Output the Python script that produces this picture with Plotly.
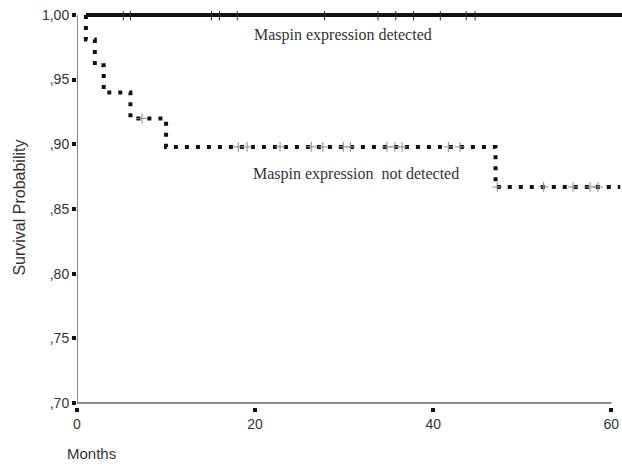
import plotly.graph_objects as go

# Kaplan-Meier step data
det_t = [1.0, 61.2]
det_s = [1.0, 1.0]
det_cens_t = [5.2, 6.0, 15.1, 16.0, 18.0, 27.8, 33.8, 35.8, 37.8, 40.8, 43.7, 44.7]

nd_t = [1.0, 1.0, 2.0, 3.0, 6.0, 10.0, 47.0, 61.0]
nd_s = [1.0, 0.981, 0.961, 0.94, 0.92, 0.898, 0.867, 0.867]
nd_cens_t = [7.3, 18.1, 19.1, 22.8, 26.3, 27.6, 29.9, 30.7, 34.8, 35.7, 36.5,
             41.7, 43.0, 47.2, 52.4, 55.7, 57.6, 58.5]
nd_cens_s = [0.92] + [0.898] * 12 + [0.867] * 5

x_ticks = [0, 20, 40, 60]
y_ticks = [0.70, 0.75, 0.80, 0.85, 0.90, 0.95, 1.00]
y_labels = [",70", ",75", ",80", ",85", ",90", ",95", "1,00"]

fig = go.Figure()
fig.add_trace(go.Scatter(x=nd_t, y=nd_s, mode="lines", line_shape="hv",
                         line=dict(color="#111", width=4, dash="4px,7px"),
                         hoverinfo="skip"))
fig.add_trace(go.Scatter(x=nd_cens_t, y=nd_cens_s, mode="markers",
                         marker=dict(symbol="cross-thin", size=7,
                                     line=dict(color="#888", width=1)),
                         hoverinfo="skip"))
fig.add_trace(go.Scatter(x=det_t, y=det_s, mode="lines",
                         line=dict(color="#111", width=4), hoverinfo="skip"))
fig.add_trace(go.Scatter(x=det_cens_t, y=[1.0] * len(det_cens_t), mode="markers",
                         marker=dict(symbol="line-ns", size=8,
                                     line=dict(color="#333", width=1)),
                         hoverinfo="skip"))

# axis lines (x axis line ends at 60)
fig.add_shape(type="line", x0=0, x1=60, y0=0.70, y1=0.70, xref="x", yref="y",
              line=dict(color="#666", width=1.5), layer="below")
fig.add_shape(type="line", x0=0, x1=0, y0=0.70, y1=1.0, xref="x", yref="y",
              line=dict(color="#666", width=1.5), layer="below")

fig.add_annotation(x=29.9, y=0.9845, text="Maspin expression detected",
                   showarrow=False, xref="x", yref="y",
                   font=dict(family="Liberation Serif", size=16, color="#333"))
fig.add_annotation(x=31.3, y=0.877, text="Maspin expression&nbsp;&nbsp;not detected",
                   showarrow=False, xref="x", yref="y",
                   font=dict(family="Liberation Serif", size=16, color="#333"))
fig.add_annotation(x=-0.105, y=0.503, text="Survival Probability", textangle=-90,
                   showarrow=False, xref="paper", yref="paper",
                   xanchor="center", yanchor="middle",
                   font=dict(family="Liberation Sans", size=16, color="#333"))
fig.add_annotation(x=-0.022, y=-0.118, text="Months", showarrow=False,
                   xref="paper", yref="paper", xanchor="left", yanchor="middle",
                   font=dict(family="Liberation Sans", size=15, color="#333"))

fig.update_layout(
    width=622, height=467,
    margin=dict(l=77, r=0, t=11, b=60),
    paper_bgcolor="white", plot_bgcolor="white",
    showlegend=False,
    font=dict(family="Liberation Sans", size=14, color="#333"),
    xaxis=dict(range=[0, 61.2], tickvals=x_ticks, ticktext=[str(v) for v in x_ticks],
               showgrid=False, zeroline=False, showline=False,
               ticklabeloverflow="allow",
               ticks="outside", ticklen=4, tickwidth=4, tickcolor="#111"),
    yaxis=dict(range=[0.697, 1.003], tickvals=y_ticks, ticktext=y_labels,
               showgrid=False, zeroline=False, showline=False,
               ticklabeloverflow="allow",
               ticks="outside", ticklen=4, tickwidth=4, tickcolor="#111"),
)

fig.write_html(
    "out.html",
    config={"displayModeBar": False},
    post_script="document.body.style.margin='0';document.body.style.overflow='hidden';",
)
